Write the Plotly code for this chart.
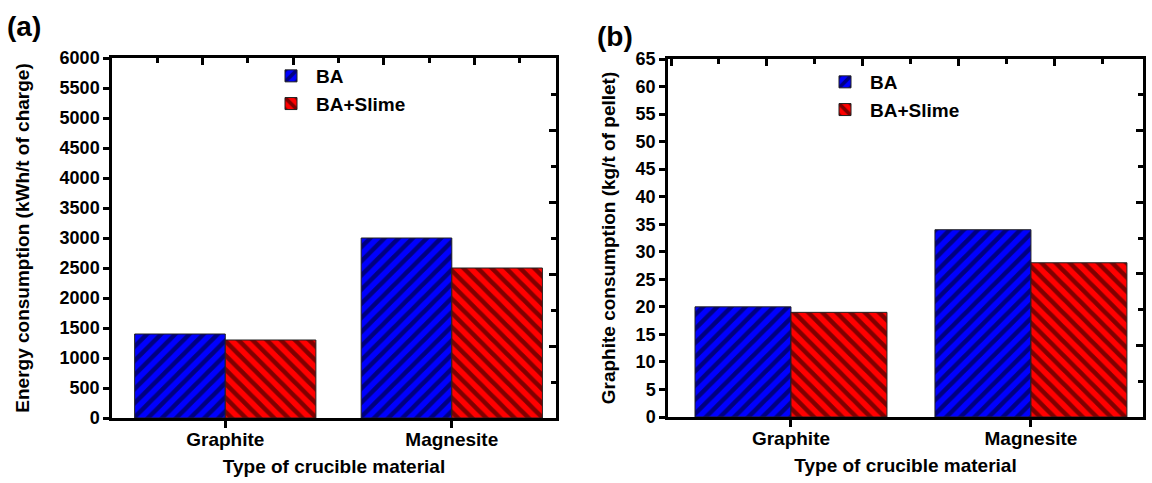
import plotly.graph_objects as go

categories = ["Graphite", "Magnesite"]
series_names = ["BA", "BA+Slime"]
energy_ba = [1400, 3000]
energy_slime = [1300, 2500]
graphite_ba = [20, 34]
graphite_slime = [19, 28]

W, H = 1152, 483
FONT = "Liberation Sans, Arial, sans-serif"
BLUE = "#0000ff"
RED = "#ff0000"

def px_x(p):
    return p / W

def px_y(p):
    return 1 - p / H

fig = go.Figure()

def add_bars(vals_ba, vals_sl, xa, ya, legend):
    fig.add_trace(go.Bar(
        x=categories, y=vals_ba, name=series_names[0], xaxis=xa, yaxis=ya, legend=legend,
        marker=dict(color=BLUE, line=dict(color="#202020", width=1),
                    pattern=dict(shape="/", fgcolor="black", bgcolor=BLUE, size=10, solidity=0.45)),
        offsetgroup="a"))
    fig.add_trace(go.Bar(
        x=categories, y=vals_sl, name=series_names[1], xaxis=xa, yaxis=ya, legend=legend,
        marker=dict(color=RED, line=dict(color="#202020", width=1),
                    pattern=dict(shape="\\", fgcolor="black", bgcolor=RED, size=10, solidity=0.45)),
        offsetgroup="b"))

add_bars(energy_ba, energy_slime, "x", "y", "legend")
add_bars(graphite_ba, graphite_slime, "x2", "y2", "legend2")

# empty helper traces so the decorative overlay axes (top/right ticks) are drawn
for xa, ya in [("x3", "y"), ("x", "y3"), ("x4", "y2"), ("x2", "y4")]:
    fig.add_trace(go.Scatter(x=[], y=[], xaxis=xa, yaxis=ya, showlegend=False, hoverinfo="skip"))

tickfont = dict(family=FONT, size=18, color="black", weight="bold")
titlefont = dict(family=FONT, size=19, color="black", weight="bold")
xtitlefont = dict(family=FONT, size=19, color="black", weight="bold")
catfont = dict(family=FONT, size=19, color="black", weight="bold")
legfont = dict(family=FONT, size=19, color="black", weight="bold")

left_dom = [px_x(112), px_x(556)]
right_dom = [px_x(668), px_x(1143)]
left_ydom = [px_y(418), px_y(58)]
right_ydom = [px_y(417), px_y(59)]
xr_left = [-0.5, 1.46]
xr_right = [-0.5125, 1.467]

axline = dict(showline=True, linecolor="black", linewidth=2.5, showgrid=False, zeroline=False, automargin=False)

fig.update_layout(
    width=W, height=H, margin=dict(l=0, r=0, t=0, b=0, autoexpand=False),
    paper_bgcolor="white", plot_bgcolor="white",
    barmode="group", bargap=0.2, bargroupgap=0,
    font=dict(family=FONT, color="black"),
    xaxis=dict(domain=left_dom, anchor="y", range=xr_left, type="category",
               ticks="outside", ticklen=7, tickwidth=2.5, tickcolor="black",
               tickfont=catfont, mirror=False, ticklabelstandoff=-5,
               title=dict(text="Type of crucible material", font=xtitlefont, standoff=12), **axline),
    yaxis=dict(domain=left_ydom, anchor="x", range=[0, 6000], dtick=500,
               ticks="outside", ticklen=6, tickwidth=2.5, tickcolor="black",
               tickfont=tickfont,
               title=dict(text="Energy consumption (kWh/t of charge)", font=titlefont, standoff=25), **axline),
    xaxis3=dict(overlaying="x", anchor="y", side="top", range=xr_left, type="linear",
                tick0=-0.1, dtick=0.4, ticks="inside", ticklen=7, tickwidth=2.5, tickcolor="black",
                showticklabels=False, minor=dict(tick0=-0.3, dtick=0.4, ticks="inside", ticklen=5, tickwidth=2.5, tickcolor="black"),
                **axline),
    yaxis3=dict(overlaying="y", anchor="x", side="right", range=[0, 6000],
                tick0=0, dtick=1200, ticks="inside", ticklen=7, tickwidth=2.5, tickcolor="black",
                showticklabels=False, minor=dict(dtick=600, ticks="inside", ticklen=5, tickwidth=2.5, tickcolor="black"),
                **axline),
    xaxis2=dict(domain=right_dom, anchor="y2", range=xr_right, type="category",
                ticks="outside", ticklen=7, tickwidth=2.5, tickcolor="black",
                tickfont=catfont, ticklabelstandoff=-5,
                title=dict(text="Type of crucible material", font=xtitlefont, standoff=12), **axline),
    yaxis2=dict(domain=right_ydom, anchor="x2", range=[0, 65], dtick=5,
                ticks="outside", ticklen=6, tickwidth=2.5, tickcolor="black",
                tickfont=tickfont,
                title=dict(text="Graphite consumption (kg/t of pellet)", font=titlefont, standoff=15), **axline),
    xaxis4=dict(overlaying="x2", anchor="y2", side="top", range=xr_right, type="linear",
                tick0=-0.1, dtick=0.4, ticks="inside", ticklen=7, tickwidth=2.5, tickcolor="black",
                showticklabels=False, minor=dict(tick0=-0.3, dtick=0.4, ticks="inside", ticklen=5, tickwidth=2.5, tickcolor="black"),
                **axline),
    yaxis4=dict(overlaying="y2", anchor="x2", side="right", range=[0, 65],
                tick0=0, dtick=13, ticks="inside", ticklen=7, tickwidth=2.5, tickcolor="black",
                showticklabels=False, minor=dict(dtick=6.5, ticks="inside", ticklen=5, tickwidth=2.5, tickcolor="black"),
                **axline),
    legend=dict(x=px_x(266), y=px_y(57), xanchor="left", yanchor="top",
                font=legfont, bgcolor="rgba(0,0,0,0)", tracegroupgap=0, itemwidth=40),
    legend2=dict(x=px_x(820), y=px_y(63), xanchor="left", yanchor="top",
                 font=legfont, bgcolor="rgba(0,0,0,0)", tracegroupgap=0, itemwidth=40),
    annotations=[
        dict(text="(a)", x=px_x(5), y=px_y(27), xref="paper", yref="paper", xanchor="left", yanchor="middle",
             showarrow=False, font=dict(family=FONT, size=28, color="black", weight="bold")),
        dict(text="(b)", x=px_x(595), y=px_y(37), xref="paper", yref="paper", xanchor="left", yanchor="middle",
             showarrow=False, font=dict(family=FONT, size=28, color="black", weight="bold")),
    ],
)

fig.write_html("out.html")
